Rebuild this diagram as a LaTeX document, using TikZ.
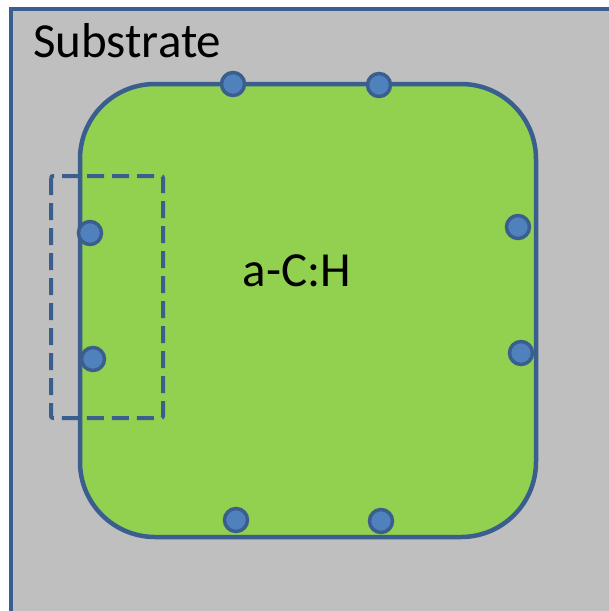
\documentclass[tikz,border=0pt]{standalone}
\usepackage{fontspec}
\setmainfont{Carlito}
\definecolor{subgray}{HTML}{BFBFBF}
\definecolor{filmgreen}{HTML}{92D050}
\definecolor{edgeblue}{HTML}{3A5F8E}
\definecolor{dotblue}{HTML}{4F81BD}
\begin{document}
\begin{tikzpicture}[x=1pt,y=-1pt,
  edge/.style={draw=edgeblue,line width=4.5pt},
  sitedot/.style={circle,fill=dotblue,draw=edgeblue,line width=3.5pt,minimum size=23pt,inner sep=0pt},
  label/.style={font=\fontsize{49}{57}\selectfont,inner sep=0pt,text=black}]
\useasboundingbox[fill=white] (0,0) rectangle (609,611);
\clip (0,0) rectangle (609,611);
\draw[edge,fill=subgray] (11,9) rectangle (660,660);
\node[label,anchor=base west] (sub) at (33,57) {Substrate};
\draw[edge,fill=filmgreen,rounded corners=75pt] (80,84) rectangle (536,537);
\node[label,anchor=base] (film) at (297,286) {a-C:H};
\draw[edge,line width=4pt,dash pattern=on 17pt off 8pt,rounded corners=2pt] (51,176) rectangle (163,418);
\node[sitedot] (d1) at (233,84) {};
\node[sitedot] (d2) at (379,85) {};
\node[sitedot] (d3) at (90,233) {};
\node[sitedot] (d4) at (93,359) {};
\node[sitedot] (d5) at (518,227) {};
\node[sitedot] (d6) at (521,353) {};
\node[sitedot] (d7) at (236,520) {};
\node[sitedot] (d8) at (381,521) {};
\end{tikzpicture}
\end{document}
